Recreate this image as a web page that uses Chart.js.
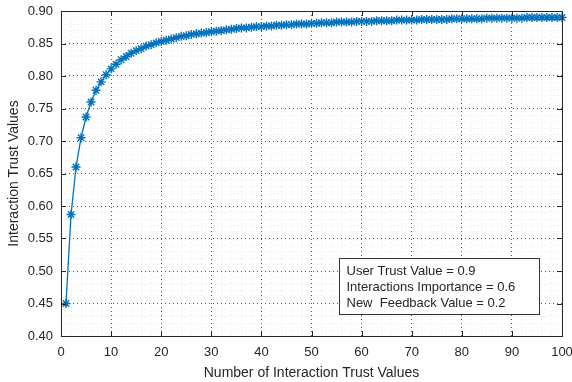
<!DOCTYPE html>
<html>
<head>
<meta charset="utf-8">
<script src="https://cdn.jsdelivr.net/npm/chart.js@4.4.1/dist/chart.umd.min.js"></script>
<style>
  html, body { margin: 0; padding: 0; background: #fff; }
  #wrap { width: 572px; height: 382px; position: relative; }
</style>
</head>
<body>
<div id="wrap"><canvas id="grafico" width="572" height="382"></canvas></div>
<script>
// valores (n = 1..100)
const numeros = [];
for (let i = 1; i <= 100; i++) numeros.push(i);

const confianza = [
  0.450, 0.587, 0.660, 0.705, 0.737, 0.760, 0.778, 0.791, 0.802, 0.811,
  0.818, 0.825, 0.830, 0.835, 0.839, 0.842, 0.846, 0.848, 0.851, 0.853,
  0.855, 0.857, 0.859, 0.861, 0.862, 0.864, 0.865, 0.866, 0.867, 0.868,
  0.869, 0.870, 0.871, 0.872, 0.873, 0.874, 0.874, 0.875, 0.876, 0.876,
  0.877, 0.877, 0.878, 0.878, 0.879, 0.879, 0.880, 0.880, 0.880, 0.881,
  0.881, 0.882, 0.882, 0.882, 0.883, 0.883, 0.883, 0.883, 0.884, 0.884,
  0.884, 0.884, 0.885, 0.885, 0.885, 0.885, 0.886, 0.886, 0.886, 0.886,
  0.886, 0.887, 0.887, 0.887, 0.887, 0.887, 0.887, 0.888, 0.888, 0.888,
  0.888, 0.888, 0.888, 0.888, 0.889, 0.889, 0.889, 0.889, 0.889, 0.889,
  0.889, 0.889, 0.890, 0.890, 0.890, 0.890, 0.890, 0.890, 0.890, 0.890
];

const textoLeyenda = [
  'User Trust Value = 0.9',
  'Interactions Importance = 0.6',
  'New  Feedback Value = 0.2'
];

const puntos = numeros.map((n, i) => ({ x: n, y: confianza[i] }));

const fuente = "'Liberation Sans', Arial, Helvetica, sans-serif";
const colorTexto = '#262626';

// marco negro, marcas hacia adentro y cuadro de texto
const marcoPlugin = {
  id: 'marco',
  afterDraw(chart) {
    const { ctx, chartArea: a, scales } = chart;
    ctx.save();
    ctx.strokeStyle = '#262626';
    ctx.lineWidth = 1;
    ctx.beginPath();
    scales.x.ticks.forEach(t => {
      if (t.value % 10 !== 0) return;
      const px = Math.round(scales.x.getPixelForValue(t.value)) + 0.5;
      ctx.moveTo(px, a.bottom); ctx.lineTo(px, a.bottom - 5);
      ctx.moveTo(px, a.top); ctx.lineTo(px, a.top + 5);
    });
    scales.y.ticks.forEach(t => {
      if (Math.round(t.value * 100) % 5 !== 0) return;
      const py = Math.round(scales.y.getPixelForValue(t.value)) + 0.5;
      ctx.moveTo(a.left, py); ctx.lineTo(a.left + 5, py);
      ctx.moveTo(a.right, py); ctx.lineTo(a.right - 5, py);
    });
    ctx.stroke();
    ctx.strokeRect(Math.round(a.left) + 0.5, Math.round(a.top) + 0.5,
      Math.round(a.right - a.left), Math.round(a.bottom - a.top));

    // cuadro de texto
    const bx = Math.round(a.right) - 222.5, by = Math.round(a.bottom) - 77.5;
    const bw = 200, bh = 56;
    ctx.fillStyle = '#fff';
    ctx.fillRect(bx, by, bw, bh);
    ctx.strokeStyle = '#333';
    ctx.strokeRect(bx, by, bw, bh);
    ctx.fillStyle = colorTexto;
    ctx.font = '13px ' + fuente;
    ctx.textBaseline = 'middle';
    textoLeyenda.forEach((s, i) => ctx.fillText(s, bx + 7, by + 13 + i * 16));
    ctx.restore();
  }
};

new Chart(document.getElementById('grafico'), {
  type: 'line',
  data: {
    datasets: [{
      data: puntos,
      borderColor: '#0072BD',
      backgroundColor: '#0072BD',
      borderWidth: 1.3,
      pointStyle: 'star',
      pointRadius: 4.5,
      pointBorderWidth: 1.4,
      pointBorderColor: '#0072BD',
      tension: 0,
      fill: false,
      clip: false
    }]
  },
  options: {
    responsive: false,
    animation: false,
    layout: { padding: 0 },
    plugins: { legend: { display: false }, tooltip: { enabled: false } },
    scales: {
      x: {
        type: 'linear',
        min: 0, max: 100,
        afterFit: s => { s.height = 46; s.paddingLeft = 0; s.paddingRight = 10; },
        border: { display: false, dash: [1, 3] },
        grid: {
          drawTicks: false,
          color: c => c.tick && c.tick.value % 10 === 0 ? 'rgba(50,50,50,0.8)' : 'rgba(190,190,190,0.35)'
        },
        ticks: {
          stepSize: 2, autoSkip: false, maxRotation: 0,
          padding: 9, color: colorTexto,
          font: { family: fuente, size: 13 },
          callback: v => v % 10 === 0 ? String(v) : ''
        },
        title: {
          display: true, text: 'Number of Interaction Trust Values',
          color: colorTexto, font: { family: fuente, size: 14 },
          padding: { top: 3, bottom: 0 }
        }
      },
      y: {
        min: 0.4, max: 0.9,
        afterFit: s => { s.width = 61; s.paddingTop = 11; s.paddingBottom = 0; },
        border: { display: false, dash: [1, 3] },
        grid: {
          drawTicks: false,
          color: c => c.tick && Math.round(c.tick.value * 100) % 5 === 0 ? 'rgba(50,50,50,0.8)' : 'rgba(190,190,190,0.35)'
        },
        ticks: {
          stepSize: 0.01, autoSkip: false,
          padding: 8, color: colorTexto,
          font: { family: fuente, size: 13 },
          callback: v => Math.round(v * 100) % 5 === 0 ? Number(v).toFixed(2) : ''
        },
        title: {
          display: true, text: 'Interaction Trust Values',
          color: colorTexto, font: { family: fuente, size: 14 },
          padding: { top: 6, bottom: 0 }
        }
      }
    }
  },
  plugins: [marcoPlugin]
});
</script>
</body>
</html>
